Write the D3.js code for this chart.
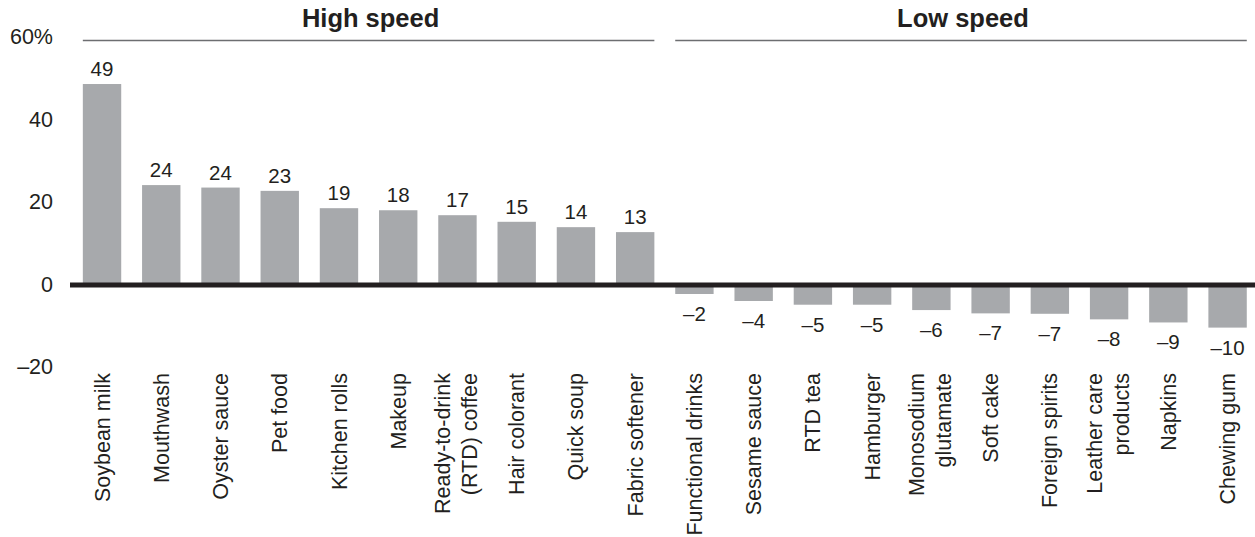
<!DOCTYPE html>
<html>
<head>
<meta charset="utf-8">
<script src="https://cdn.jsdelivr.net/npm/d3@7/dist/d3.min.js"></script>
<style>
  html, body { margin: 0; padding: 0; background: #fff; }
  svg { display: block; font-family: "Liberation Sans", Arial, Helvetica, sans-serif; }
</style>
</head>
<body>
<svg id="chart" width="1255" height="537"></svg>
<script>
// Growth by category, percent
const categories = [
  "Soybean milk", "Mouthwash", "Oyster sauce", "Pet food", "Kitchen rolls",
  "Makeup", "Ready-to-drink\n(RTD) coffee", "Hair colorant", "Quick soup", "Fabric softener",
  "Functional drinks", "Sesame sauce", "RTD tea", "Hamburger", "Monosodium\nglutamate",
  "Soft cake", "Foreign spirits", "Leather care\nproducts", "Napkins", "Chewing gum"
];
const values = [
  48.6, 24.1, 23.5, 22.7, 18.5, 18.0, 16.8, 15.2, 13.9, 12.7,
  -2.3, -4.0, -4.9, -4.9, -6.2, -7.0, -7.1, -8.45, -9.2, -10.45
];
const groups = [
  { name: "High speed", first: 0, last: 9 },
  { name: "Low speed", first: 10, last: 19 }
];
const yTicks = [60, 40, 20, 0, -20];

const svg = d3.select("#chart");
const ink = "#231f20";
const barFill = "#a7a9ac";

const x = d3.scaleBand()
  .domain(categories)
  .range([72.4, 1257.2])
  .paddingInner(0.352)
  .paddingOuter(0.176);

const y = d3.scaleLinear().domain([-20, 60]).range([367, 37]);

const fmt = v => {
  const r = Math.round(v);
  return r < 0 ? "\u2013" + Math.abs(r) : String(r);
};

// y-axis labels only (no axis line or ticks)
const yAxis = d3.axisLeft(y)
  .tickValues(yTicks)
  .tickSize(0)
  .tickPadding(0)
  .tickFormat(d => d === 60 ? "60%" : (d < 0 ? "\u2013" + Math.abs(d) : String(d)));
const gy = svg.append("g").attr("transform", "translate(53,0)").call(yAxis);
gy.select(".domain").remove();
gy.attr("font-family", null).attr("font-size", null);
gy.selectAll("text")
  .attr("font-size", 21.5)
  .attr("fill", ink);

// bars
svg.append("g").selectAll("rect")
  .data(values)
  .join("rect")
  .attr("x", (d, i) => x(categories[i]))
  .attr("width", x.bandwidth())
  .attr("y", d => d >= 0 ? y(d) : y(0))
  .attr("height", d => Math.abs(y(d) - y(0)))
  .attr("fill", barFill);

// zero baseline
svg.append("line")
  .attr("x1", 70).attr("x2", 1255)
  .attr("y1", y(0) + 0.5).attr("y2", y(0) + 0.5)
  .attr("stroke", ink)
  .attr("stroke-width", 5);

// value labels
svg.append("g").selectAll("text")
  .data(values)
  .join("text")
  .attr("x", (d, i) => x(categories[i]) + x.bandwidth() / 2)
  .attr("y", d => d >= 0 ? y(d) - 8 : y(d) + 27)
  .attr("text-anchor", "middle")
  .attr("font-size", 20.5)
  .attr("fill", ink)
  .text(fmt);

// rotated category labels
const lineH = 27;
const cat = svg.append("g").selectAll("text")
  .data(categories)
  .join("text")
  .attr("transform", d => {
    const cx = x(d) + x.bandwidth() / 2;
    return `translate(${cx},373) rotate(-90)`;
  })
  .attr("text-anchor", "end")
  .attr("font-size", 21.5)
  .attr("fill", ink);
cat.each(function (d) {
  const lines = d.split("\n");
  const t = d3.select(this);
  const off = -(lines.length - 1) * lineH / 2 - (lines.length > 1 ? 1.5 : 0);
  lines.forEach((ln, k) => {
    t.append("tspan")
      .attr("x", 0)
      .attr("y", off + k * lineH)
      .attr("dy", "0.35em")
      .text(ln);
  });
});

// group headers with rules
const gh = svg.append("g").selectAll("g")
  .data(groups)
  .join("g");
gh.append("line")
  .attr("x1", g => x(categories[g.first]))
  .attr("x2", g => x(categories[g.last]) + x.bandwidth())
  .attr("y1", 40.5).attr("y2", 40.5)
  .attr("stroke", "#6d6e71")
  .attr("stroke-width", 1.5);
gh.append("text")
  .attr("x", g => (x(categories[g.first]) + x(categories[g.last]) + x.bandwidth()) / 2 + 2)
  .attr("y", 27)
  .attr("text-anchor", "middle")
  .attr("font-size", 25.5)
  .attr("font-weight", "bold")
  .attr("fill", ink)
  .text(g => g.name);
</script>
</body>
</html>
